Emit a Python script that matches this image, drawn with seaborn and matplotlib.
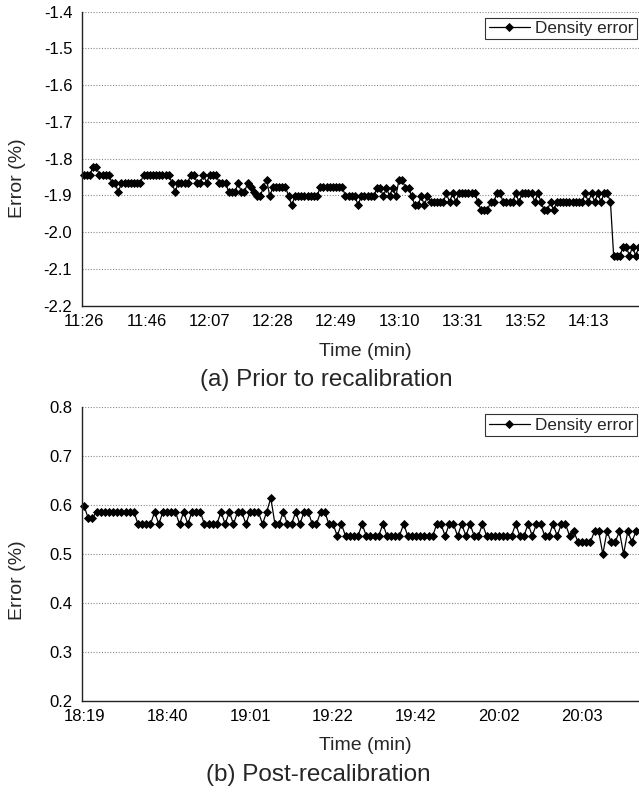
import numpy as np
import pandas as pd
import matplotlib
matplotlib.use("Agg")
import matplotlib.pyplot as plt
import seaborn as sns

# ---------------- data ----------------
top_error = [
    -1.844, -1.844, -1.844, -1.822, -1.822, -1.844, -1.844, -1.844, -1.844, -1.866,
    -1.866, -1.891, -1.866, -1.866, -1.866, -1.866, -1.866, -1.866, -1.866, -1.844,
    -1.844, -1.844, -1.844, -1.844, -1.844, -1.844, -1.844, -1.844, -1.866, -1.891,
    -1.866, -1.866, -1.866, -1.866, -1.844, -1.844, -1.866, -1.866, -1.844, -1.866,
    -1.844, -1.844, -1.844, -1.866, -1.866, -1.866, -1.891, -1.891, -1.891, -1.866,
    -1.891, -1.891, -1.866, -1.878, -1.891, -1.902, -1.902, -1.878, -1.857, -1.902,
    -1.878, -1.878, -1.878, -1.878, -1.878, -1.902, -1.927, -1.902, -1.902, -1.902,
    -1.902, -1.902, -1.902, -1.902, -1.902, -1.878, -1.878, -1.878, -1.878, -1.878,
    -1.878, -1.878, -1.878, -1.902, -1.902, -1.902, -1.902, -1.927, -1.902, -1.902,
    -1.902, -1.902, -1.902, -1.880, -1.880, -1.902, -1.880, -1.902, -1.880, -1.902,
    -1.857, -1.857, -1.880, -1.880, -1.902, -1.927, -1.927, -1.902, -1.927, -1.902,
    -1.918, -1.918, -1.918, -1.918, -1.918, -1.895, -1.918, -1.895, -1.918, -1.895,
    -1.895, -1.895, -1.895, -1.895, -1.895, -1.918, -1.941, -1.941, -1.941, -1.918,
    -1.918, -1.895, -1.895, -1.918, -1.918, -1.918, -1.918, -1.895, -1.918, -1.895,
    -1.895, -1.895, -1.895, -1.918, -1.895, -1.918, -1.941, -1.941, -1.918, -1.941,
    -1.918, -1.918, -1.918, -1.918, -1.918, -1.918, -1.918, -1.918, -1.918, -1.895,
    -1.918, -1.895, -1.918, -1.895, -1.918, -1.895, -1.895, -1.918, -2.064, -2.064,
    -2.064, -2.041, -2.041, -2.064, -2.041, -2.064, -2.041,
]

bottom_error = [
    0.598, 0.573, 0.573, 0.586, 0.586, 0.586, 0.586, 0.586, 0.586, 0.586,
    0.586, 0.586, 0.586, 0.561, 0.561, 0.561, 0.561, 0.586, 0.561, 0.586,
    0.586, 0.586, 0.586, 0.561, 0.586, 0.561, 0.586, 0.586, 0.586, 0.561,
    0.561, 0.561, 0.561, 0.586, 0.561, 0.586, 0.561, 0.586, 0.586, 0.561,
    0.586, 0.586, 0.586, 0.561, 0.586, 0.614, 0.561, 0.561, 0.586, 0.561,
    0.561, 0.586, 0.561, 0.586, 0.586, 0.561, 0.561, 0.586, 0.586, 0.561,
    0.561, 0.537, 0.561, 0.537, 0.537, 0.537, 0.537, 0.561, 0.537, 0.537,
    0.537, 0.537, 0.561, 0.537, 0.537, 0.537, 0.537, 0.561, 0.537, 0.537,
    0.537, 0.537, 0.537, 0.537, 0.537, 0.561, 0.561, 0.537, 0.561, 0.561,
    0.537, 0.561, 0.537, 0.561, 0.537, 0.537, 0.561, 0.537, 0.537, 0.537,
    0.537, 0.537, 0.537, 0.537, 0.561, 0.537, 0.537, 0.561, 0.537, 0.561,
    0.561, 0.537, 0.537, 0.561, 0.537, 0.561, 0.561, 0.537, 0.546, 0.525,
    0.525, 0.525, 0.525, 0.546, 0.546, 0.500, 0.546, 0.525, 0.525, 0.546,
    0.500, 0.546, 0.525, 0.546,
]

top_time_labels = ["11:26", "11:46", "12:07", "12:28", "12:49", "13:10", "13:31", "13:52", "14:13"]
bottom_time_labels = ["18:19", "18:40", "19:01", "19:22", "19:42", "20:02", "20:03"]
top_yticks = [-2.2, -2.1, -2.0, -1.9, -1.8, -1.7, -1.6, -1.5, -1.4]
bottom_yticks = [0.2, 0.3, 0.4, 0.5, 0.6, 0.7, 0.8]
series_name = "Density error"
x_title = "Time (min)"
y_title = "Error (%)"
captions = ["(a) Prior to recalibration", "(b) Post-recalibration"]

# ---------------- style ----------------
sns.set_style("white")
plt.rcParams['font.family'] = ['Liberation Sans', 'DejaVu Sans']
plt.rcParams['axes.unicode_minus'] = False

W, H = 639, 792
fig = plt.figure(figsize=(W / 100, H / 100), dpi=100)


def add_axes(left, top, right, bottom):
    return fig.add_axes([left / W, 1 - bottom / H, (right - left) / W, (bottom - top) / H])


def draw_panel(ax, values, labels, yticks, n_cats, tick_every, label_every, legend_anchor):
    df = pd.DataFrame({"idx": np.arange(len(values)), "err": values})
    sns.lineplot(data=df, x="idx", y="err", ax=ax, color="black", linewidth=0.9,
                 marker="D", markersize=4.0, markeredgecolor="black",
                 markerfacecolor="black", markeredgewidth=0.6,
                 label=series_name, clip_on=False)
    ax.set_xlim(-0.5, n_cats - 0.5)
    ax.set_ylim(min(yticks), max(yticks))
    ax.set_xlabel("")
    ax.set_ylabel("")
    ax.set_yticks(yticks)
    ax.set_yticklabels([f"{v:.1f}" for v in yticks])
    ax.tick_params(axis="y", length=0, pad=7, labelsize=12, colors="black")
    ax.set_xticks([label_every * j for j in range(len(labels))])
    ax.set_xticklabels(labels)
    ax.set_xticks(np.arange(-0.5, n_cats, tick_every), minor=True)
    ax.tick_params(axis="x", which="major", length=0, pad=6, labelsize=12, colors="black")
    ax.tick_params(axis="x", which="minor", direction="in", length=4, width=0.8, color="#333333")
    ax.grid(False)
    ax.yaxis.grid(True, linestyle=(0, (1, 1.5)), color="#8a8a8a", linewidth=0.8)
    ax.set_axisbelow(True)
    for s in ("top", "right"):
        ax.spines[s].set_visible(False)
    for s in ("left", "bottom"):
        ax.spines[s].set_color("#222222")
        ax.spines[s].set_linewidth(1.0)
    leg = ax.legend(loc="upper right", bbox_to_anchor=legend_anchor, frameon=True,
                    fancybox=False, edgecolor="black", fontsize=12.3, handlelength=2.4,
                    handletextpad=0.3, borderpad=0.2, borderaxespad=0)
    leg.get_frame().set_linewidth(0.8)
    leg.get_frame().set_facecolor("white")


# top panel: 3.155 px per category, bottom: 4.15 px per category
ax1 = add_axes(82, 11.7, 82 + 3.155 * 180, 305.5)
draw_panel(ax1, top_error, top_time_labels, top_yticks, 180, 10, 20, (0.977, 0.98))

ax2 = add_axes(82, 407, 82 + 4.15 * 140, 701)
draw_panel(ax2, bottom_error, bottom_time_labels, bottom_yticks, 140, 5, 20, (0.955, 0.975))

# axis titles and captions
fig.text(18 / W, 1 - 178 / H, y_title, rotation=90, ha="center", va="center", fontsize=14)
fig.text(18 / W, 1 - 580 / H, y_title, rotation=90, ha="center", va="center", fontsize=14)
fig.text(365 / W, 1 - 352 / H, x_title, ha="center", va="center", fontsize=14)
fig.text(365 / W, 1 - 746 / H, x_title, ha="center", va="center", fontsize=14)
fig.text(326 / W, 1 - 380 / H, captions[0], ha="center", va="center", fontsize=17.5)
fig.text(318 / W, 1 - 775 / H, captions[1], ha="center", va="center", fontsize=17.5)

fig.savefig("out.png", dpi=100)
